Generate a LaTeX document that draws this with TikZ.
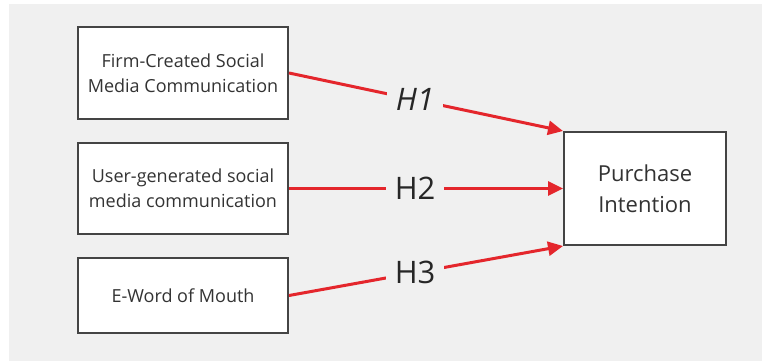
\documentclass[tikz,border=0pt]{standalone}
\usepackage{fontspec}
\setmainfont{Open Sans}
\usepackage{xcolor}
\usetikzlibrary{arrows.meta}
\definecolor{panelgray}{HTML}{F0F0F0}
\definecolor{linkred}{HTML}{E4262C}
\definecolor{boxedge}{HTML}{444444}
\definecolor{boxtext}{HTML}{333333}
\tikzset{
  factor/.style={draw=boxedge,line width=2pt,fill=white,text=boxtext,minimum width=210pt,
    align=center,font=\fontsize{18}{25}\selectfont,inner sep=0pt},
  outcome/.style={draw=boxedge,line width=2pt,fill=white,text=boxtext,minimum width=162pt,
    minimum height=113pt,align=center,font=\fontsize{22}{31}\selectfont,inner sep=0pt},
  link/.style={draw=linkred,line width=3pt,-{Triangle[length=15pt,width=14pt]}},
  hyp/.style={fill=panelgray,text=black!85,font=\fontsize{31}{31}\selectfont,inner sep=9pt,pos=.46}
}
\begin{document}
\begin{tikzpicture}[x=1pt,y=-1pt]
      \useasboundingbox (0,0) rectangle (762,361);
      \fill[white] (0,0) rectangle (762,361);
      \fill[panelgray] (9,4) rectangle (762,361);
      \node[factor,minimum height=92pt] (firm) at (183,73) {Firm-Created Social\\Media Communication};
      \node[factor,minimum height=91pt] (user) at (183,188.5) {User-generated social\\media communication};
      \node[factor,minimum height=75pt] (ewom) at (183,295.5) {E-Word of Mouth};
      \node[outcome] (intent) at (645,188.5) {Purchase\\Intention};
      \draw[link] (firm.east) -- (intent.north west) node[hyp] {\itshape H1};
      \draw[link] (user.east) -- (intent.west) node[hyp] {H2};
      \draw[link] (ewom.east) -- (intent.south west) node[hyp] {H3};
    \end{tikzpicture}
\end{document}
